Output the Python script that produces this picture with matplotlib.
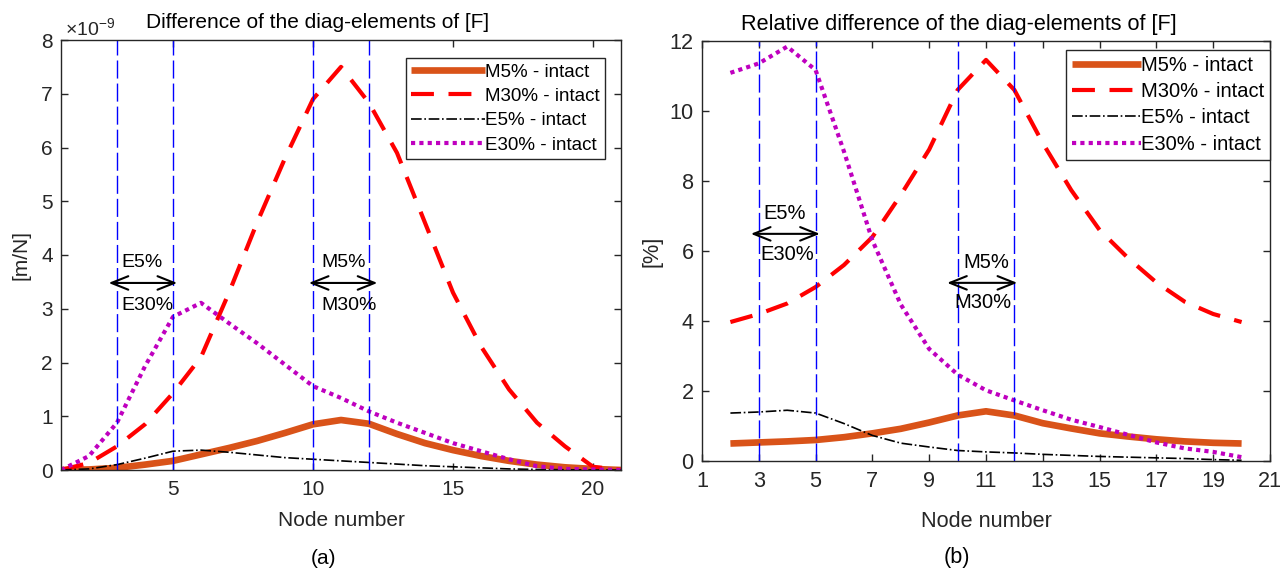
import matplotlib
matplotlib.use("Agg")
import matplotlib.pyplot as plt
import numpy as np

plt.rcParams['font.family'] = ['Liberation Sans', 'DejaVu Sans']
plt.rcParams['mathtext.fontset'] = 'custom'
plt.rcParams['mathtext.rm'] = 'Liberation Sans'

# ---------------- data ----------------
nodes_a = list(range(1, 22))
m5_a = [0, 0.01, 0.04, 0.10, 0.17, 0.29, 0.41, 0.54, 0.69, 0.85, 0.93, 0.86, 0.67, 0.50,
        0.37, 0.26, 0.17, 0.10, 0.05, 0.02, 0]
m30_a = [0, 0.13, 0.44, 0.85, 1.43, 2.1, 3.3, 4.6, 5.8, 6.9, 7.5, 6.83, 5.9, 4.6,
         3.3, 2.3, 1.5, 0.88, 0.44, 0.06, 0]
e5_a = [0, 0.02, 0.10, 0.22, 0.35, 0.37, 0.33, 0.28, 0.23, 0.20, 0.17, 0.14, 0.11, 0.08,
        0.06, 0.04, 0.02, 0.01, 0.005, 0, 0]
e30_a = [0, 0.26, 0.88, 1.93, 2.85, 3.11, 2.73, 2.36, 1.96, 1.56, 1.34, 1.09, 0.88, 0.69,
         0.50, 0.35, 0.20, 0.07, 0.02, 0.01, 0]

nodes_b = list(range(2, 21))
m5_b = [0.50, 0.53, 0.56, 0.60, 0.68, 0.79, 0.92, 1.10, 1.30, 1.42, 1.30, 1.08, 0.93,
        0.79, 0.70, 0.62, 0.56, 0.52, 0.50]
m30_b = [3.97, 4.2, 4.5, 4.97, 5.6, 6.4, 7.6, 8.9, 10.6, 11.46, 10.6, 9.08, 7.74,
         6.6, 5.8, 5.1, 4.55, 4.2, 3.97]
e5_b = [1.37, 1.40, 1.45, 1.37, 1.07, 0.73, 0.51, 0.40, 0.30, 0.26, 0.23, 0.19, 0.16,
        0.13, 0.11, 0.09, 0.07, 0.04, 0.02]
e30_b = [11.09, 11.36, 11.84, 11.17, 8.84, 6.3, 4.47, 3.2, 2.47, 2.02, 1.73, 1.45, 1.18,
         0.97, 0.75, 0.53, 0.36, 0.26, 0.11]

labels = ['M5% - intact', 'M30% - intact', 'E5% - intact', 'E30% - intact']
vlines_x = [3, 5, 10, 12]

ORANGE = '#D95319'
MAG = '#BF00BF'
AXC = '#262626'

fig = plt.figure(figsize=(12.8, 5.73), dpi=100)
axA = fig.add_axes([61/1280, 1-470/573, 560/1280, 430/573])
axB = fig.add_axes([702/1280, 1-461/573, 568/1280, 420/573])


def draw(ax, x, m5, m30, e5, e30, fs):
    ax.plot(x, m5, color=ORANGE, lw=4.8, label=labels[0], solid_capstyle='butt')
    ax.plot(x, m30, color='#FF0000', lw=3, dashes=(5.5, 3.5), label=labels[1])
    ax.plot(x, e5, color='k', lw=1.2, linestyle='-.', label=labels[2])
    ax.plot(x, e30, color=MAG, lw=3, dashes=(1, 1), label=labels[3])
    for xv in vlines_x:
        ax.axvline(xv, color='#0000FF', lw=1, dashes=(13, 3.6))
    for s in ax.spines.values():
        s.set_color(AXC)
        s.set_linewidth(1)
    ax.tick_params(direction='in', top=True, right=True, length=5, width=1,
                   colors=AXC, labelsize=fs, labelcolor=AXC)
    ax.tick_params(axis='x', pad=7)
    ax.tick_params(axis='y', pad=6)


def arrow(ax, x0, x1, y, top, bot, dy_top, dy_bot, xt, xb, fs):
    ax.annotate('', xy=(x1, y), xytext=(x0, y),
                arrowprops=dict(arrowstyle='<->,head_length=0.45,head_width=0.18',
                                lw=1.5, color='k', mutation_scale=27,
                                shrinkA=0, shrinkB=0))
    ax.text(xt, y + dy_top, top, ha='center', va='center', fontsize=fs, color='k')
    ax.text(xb, y + dy_bot, bot, ha='center', va='center', fontsize=fs, color='k')


def legend(ax, anchor, fs, hl, ls):
    leg = ax.legend(loc='upper right', bbox_to_anchor=anchor, fontsize=fs,
                    handlelength=hl, handletextpad=0.0, borderpad=0.3, labelspacing=ls,
                    borderaxespad=0, fancybox=False, framealpha=1, edgecolor=AXC)
    leg.get_frame().set_linewidth(1)
    return leg


# ---- (a) ----
FA = 15
draw(axA, nodes_a, m5_a, m30_a, e5_a, e30_a, FA)
axA.set_xlim(1, 21)
axA.set_ylim(0, 8)
axA.set_xticks([5, 10, 15, 20])
axA.set_yticks(range(0, 9))
axA.set_title('Difference of the diag-elements of [F]', fontsize=FA, x=0.459, pad=9, color='k')
axA.set_xlabel('Node number', fontsize=FA, color=AXC)
axA.xaxis.set_label_coords(0.5, -0.095)
axA.set_ylabel('[m/N]', fontsize=FA, color=AXC)
axA.yaxis.set_label_coords(-0.054, 0.5)
axA.text(0.008, 1.026, r'$\times$10$^{-9}$', transform=axA.transAxes, fontsize=14,
         ha='left', va='center', color=AXC)
arrow(axA, 2.7, 5.15, 3.48, 'E5%', 'E30%', 0.38, -0.42, 3.9, 4.1, 14)
arrow(axA, 9.85, 12.3, 3.48, 'M5%', 'M30%', 0.38, -0.42, 11.1, 11.3, 14)
legend(axA, (0.971, 0.958), 13.5, 3.9, 0.38)

# ---- (b) ----
FB = 15.6
draw(axB, nodes_b, m5_b, m30_b, e5_b, e30_b, FB)
axB.set_xlim(1, 21)
axB.set_ylim(0, 12)
axB.set_xticks(range(1, 22, 2))
axB.set_yticks(range(0, 13, 2))
axB.set_title('Relative difference of the diag-elements of [F]', fontsize=FB, x=0.452, pad=8, color='k')
axB.set_xlabel('Node number', fontsize=FB, color=AXC)
axB.xaxis.set_label_coords(0.5, -0.119)
axB.set_ylabel('[%]', fontsize=FB, color=AXC)
axB.yaxis.set_label_coords(-0.070, 0.5)
arrow(axB, 2.72, 5.15, 6.49, 'E5%', 'E30%', 0.59, -0.6, 3.92, 3.99, 14.5)
arrow(axB, 9.63, 12.1, 5.09, 'M5%', 'M30%', 0.57, -0.55, 11.0, 10.9, 14.5)
legend(axB, (1.0, 0.979), 14.5, 3.4, 0.36)

fig.text(323/1280, 1-558/573, '(a)', ha='center', va='center', fontsize=FA, color='k')
fig.text(957/1280, 1-558/573, '(b)', ha='center', va='center', fontsize=FB, color='k')

fig.savefig('out.png', dpi=100)
